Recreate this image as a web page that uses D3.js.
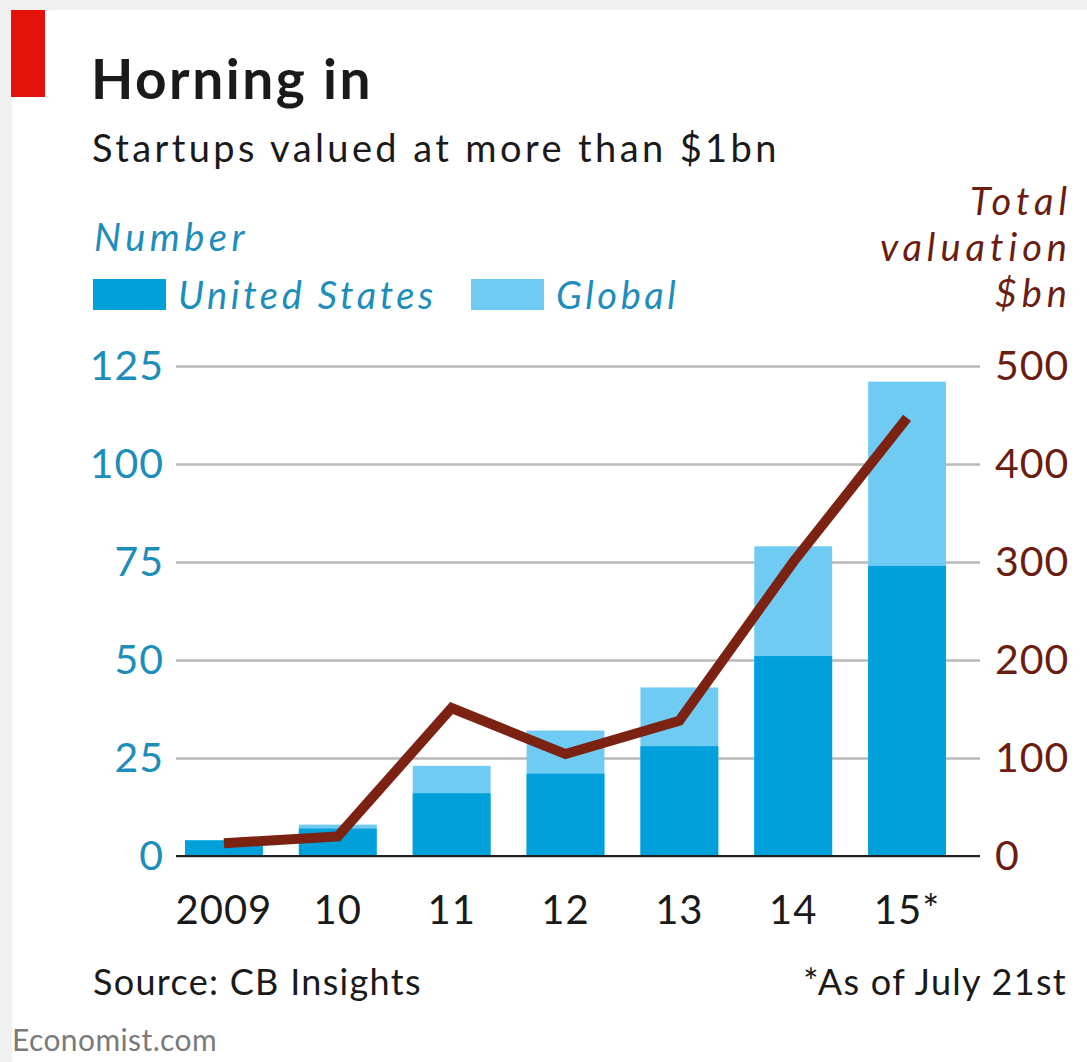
<!DOCTYPE html>
<html lang="en">
<head>
<meta charset="utf-8">
<title>Horning in</title>
<script src="https://d3js.org/d3.v7.min.js"></script>
<style>
  body { margin: 0; background: #f0f0f0; }
  svg text { font-family: Lato, "Open Sans", sans-serif; }
  .axis .domain { display: none; }
</style>
</head>
<body>
<div id="chart"></div>
<script>

// data
var years = ["2009", "10", "11", "12", "13", "14", "15*"];
var unitedStates = [4, 7, 16, 21, 28, 51, 74];     // number, US
var globalTotal = [4, 8, 23, 32, 43, 79, 121];     // number, global (incl. US)
var valuation = [13, 20, 151, 104, 138, 300, 447]; // total valuation, $bn
var leftTicks = [0, 25, 50, 75, 100, 125];
var rightTicks = [0, 100, 200, 300, 400, 500];

var width = 1087, height = 1062;
var darkBlue = "#00a0db", lightBlue = "#6fcbf2", lineColor = "#7b2213";
var numColor = "#1d8db9", valColor = "#6a1d10";

var svg = d3.select("#chart").append("svg")
    .attr("width", width)
    .attr("height", height);

svg.append("rect")
    .attr("x", 12).attr("y", 10)
    .attr("width", width - 12).attr("height", height - 10)
    .attr("fill", "#fff");

// red tag
svg.append("rect")
    .attr("x", 11).attr("y", 10)
    .attr("width", 34).attr("height", 87)
    .attr("fill", "#e3120b");

svg.append("text")
    .attr("x", 91).attr("y", 99)
    .attr("font-size", 55).attr("font-weight", "bold")
    .attr("letter-spacing", 2.5)
    .attr("fill", "#1a1a1a")
    .text("Horning in");

svg.append("text")
    .attr("x", 92).attr("y", 162)
    .attr("font-size", 38)
    .attr("letter-spacing", 3.4)
    .attr("fill", "#1a1a1a")
    .text("Startups valued at more than $1bn");

//----------------------------------
// scales
var plotLeft = 176, plotRight = 980, plotTop = 366, plotBottom = 856;

var x = d3.scaleBand()
    .domain(years)
    .range([167, 964])
    .paddingInner(0.316)
    .paddingOuter(0.158);

var y = d3.scaleLinear()
    .domain([0, 125])
    .range([plotBottom, plotTop]);

var yR = d3.scaleLinear()
    .domain([0, 500])
    .range([plotBottom, plotTop]);

// gridlines + left labels
var gl = svg.append("g")
    .attr("class", "axis")
    .attr("transform", "translate(" + plotLeft + ",0)")
    .call(d3.axisLeft(y)
      .tickValues(leftTicks)
      .tickSize(-(plotRight - plotLeft))
      .tickPadding(12));

gl.selectAll(".tick line")
    .attr("stroke", "#b9b9b9")
    .attr("stroke-width", 2.5);

gl.selectAll(".tick text")
    .attr("font-size", 41)
    .attr("letter-spacing", 1)
    .attr("fill", numColor);

// right labels
var gr = svg.append("g")
    .attr("class", "axis")
    .attr("transform", "translate(" + plotRight + ",0)")
    .call(d3.axisRight(yR)
      .tickValues(rightTicks)
      .tickSize(0)
      .tickPadding(15));

gr.selectAll(".tick text")
    .attr("font-size", 41)
    .attr("letter-spacing", 1)
    .attr("fill", valColor);

//----------------------------------
// bars
var rows = years.map(function(d, i) {
  return { year: d, us: unitedStates[i], total: globalTotal[i], val: valuation[i] };
});

svg.append("g").selectAll("rect")
    .data(rows)
    .enter().append("rect")
    .attr("x", function(d) { return x(d.year); })
    .attr("y", function(d) { return y(d.total); })
    .attr("width", x.bandwidth())
    .attr("height", function(d) { return y(0) - y(d.total); })
    .attr("fill", lightBlue);

svg.append("g").selectAll("rect")
    .data(rows)
    .enter().append("rect")
    .attr("x", function(d) { return x(d.year); })
    .attr("y", function(d) { return y(d.us); })
    .attr("width", x.bandwidth())
    .attr("height", function(d) { return y(0) - y(d.us); })
    .attr("fill", darkBlue);

// baseline
svg.append("line")
    .attr("x1", plotLeft).attr("x2", plotRight)
    .attr("y1", y(0)).attr("y2", y(0))
    .attr("stroke", "#222")
    .attr("stroke-width", 2);

// valuation line
var line = d3.line()
    .x(function(d) { return x(d.year) + x.bandwidth() / 2; })
    .y(function(d) { return yR(d.val); });

svg.append("path")
    .datum(rows)
    .attr("d", line)
    .attr("fill", "none")
    .attr("stroke", lineColor)
    .attr("stroke-width", 10)
    .attr("stroke-linejoin", "miter");

// x labels
var gx = svg.append("g")
    .attr("class", "axis")
    .attr("transform", "translate(0," + plotBottom + ")")
    .call(d3.axisBottom(x).tickSize(0).tickPadding(40));

gx.selectAll(".tick text")
    .attr("font-size", 40)
    .attr("letter-spacing", 1)
    .attr("fill", "#1a1a1a");

//----------------------------------
// legend
svg.append("text")
    .attr("x", 94).attr("y", 251)
    .attr("font-size", 38).attr("font-style", "italic")
    .attr("letter-spacing", 4.5)
    .attr("fill", numColor)
    .text("Number");

var legend = svg.append("g")
    .selectAll("g")
    .data([["United States", darkBlue, 93], ["Global", lightBlue, 471]])
    .enter().append("g")
    .attr("transform", function(d) { return "translate(" + d[2] + ",0)"; });

legend.append("rect")
    .attr("y", 279)
    .attr("width", 73).attr("height", 31)
    .attr("fill", function(d) { return d[1]; });

legend.append("text")
    .attr("x", 85).attr("y", 309)
    .attr("font-size", 38).attr("font-style", "italic")
    .attr("letter-spacing", 3.6)
    .attr("fill", numColor)
    .text(function(d) { return d[0]; });

var rightTitle = svg.append("text")
    .attr("text-anchor", "end")
    .attr("font-size", 38).attr("font-style", "italic")
    .attr("letter-spacing", 5)
    .attr("fill", valColor);

["Total", "valuation", "$bn"].forEach(function(s, i) {
  rightTitle.append("tspan")
    .attr("x", 1072).attr("y", 215 + i * 46)
    .text(s);
});

//----------------------------------
// footer
svg.append("text")
    .attr("x", 93).attr("y", 995)
    .attr("font-size", 36)
    .attr("letter-spacing", 1.3)
    .attr("fill", "#1a1a1a")
    .text("Source: CB Insights");

svg.append("text")
    .attr("x", 1067).attr("y", 995)
    .attr("text-anchor", "end")
    .attr("font-size", 36)
    .attr("letter-spacing", 1.3)
    .attr("fill", "#1a1a1a")
    .text("*As of July 21st");

svg.append("text")
    .attr("x", 12).attr("y", 1051)
    .attr("font-size", 30)
    .attr("letter-spacing", 0.4)
    .attr("fill", "#7a7a7a")
    .text("Economist.com");

</script>
</body>
</html>
